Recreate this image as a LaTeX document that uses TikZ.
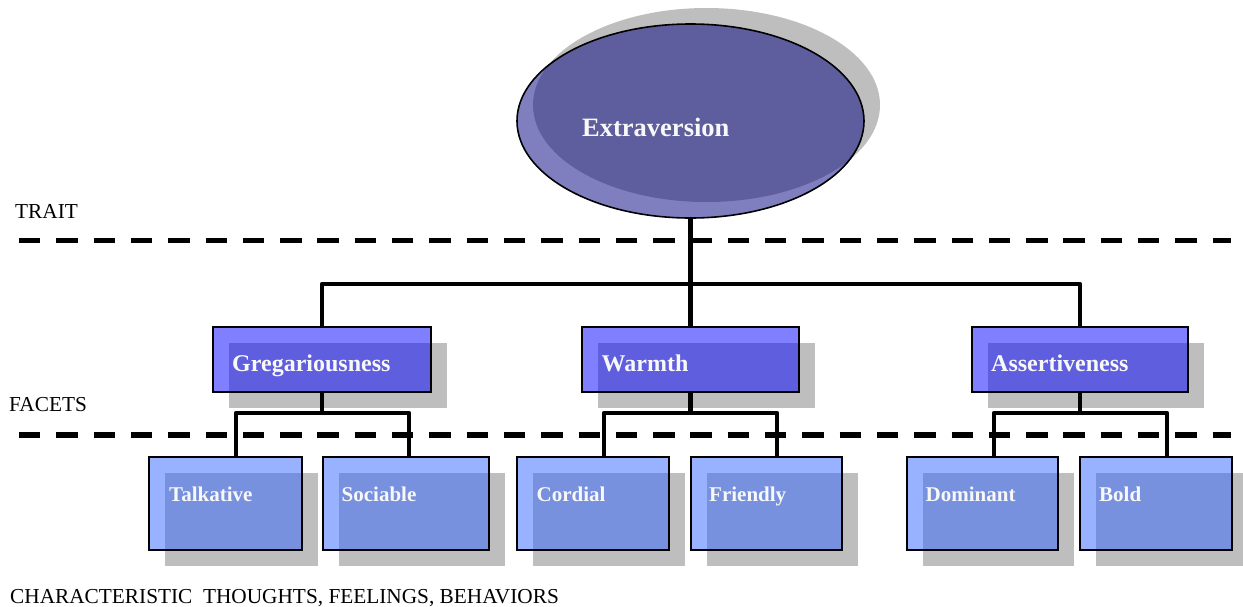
\documentclass[tikz,border=0pt]{standalone}
\usepackage{fontspec}
\setmainfont{Liberation Serif}
\usetikzlibrary{shapes.geometric,shadows}
\definecolor{shgray}{RGB}{190,190,190}
\definecolor{ellcol}{RGB}{0,0,128}
\definecolor{faccol}{RGB}{0,0,255}
\definecolor{charcol}{RGB}{51,102,255}
\definecolor{txtw}{RGB}{248,248,248}
\begin{document}
\begin{tikzpicture}[x=1pt,y=-1pt,
  boxbase/.style={draw=black, line width=2pt, fill opacity=0.5, draw opacity=1,
    inner sep=0pt, outer sep=0pt, anchor=north west},
  boxshadow/.style={drop shadow={shadow xshift=16pt, shadow yshift=-16pt,
    fill=shgray, opacity=1, fill opacity=1, draw=none}},
  facetbox/.style={boxbase, boxshadow, fill=faccol, minimum height=65pt},
  charbox/.style={boxbase, boxshadow, fill=charcol, minimum height=93pt},
  traitell/.style={ellipse, draw=black, line width=1.6pt, fill=ellcol,
    fill opacity=0.5, draw opacity=1, inner sep=0pt, outer sep=0pt,
    minimum width=347pt, minimum height=194pt,
    drop shadow={shadow xshift=16pt, shadow yshift=16pt,
    fill=shgray, opacity=1, fill opacity=1, draw=none}},
  conn/.style={draw=black, line width=4.5pt, line join=round},
  dashline/.style={draw=black, line width=5.3pt, dash pattern=on 21.4pt off 15.9pt},
  bigtxt/.style={anchor=base west, inner sep=0pt, text=txtw,
    font=\fontsize{26.5}{30}\selectfont\bfseries},
  factxt/.style={anchor=base west, inner sep=0pt, text=txtw,
    font=\fontsize{24}{28}\selectfont\bfseries},
  chartxt/.style={anchor=base west, inner sep=0pt, text=txtw,
    font=\fontsize{21}{25}\selectfont\bfseries},
  lvltxt/.style={anchor=base west, inner sep=0pt, text=black,
    font=\fontsize{21.3}{25}\selectfont}]
\useasboundingbox (0,0) rectangle (1243,606);

% dashed level lines
\coordinate (d1a) at (19,240.5);
\coordinate (d1b) at (1231,240.5);
\coordinate (d2a) at (19,435);
\coordinate (d2b) at (1231,435);
\draw[dashline] (d1a) -- (d1b);
\draw[dashline] (d2a) -- (d2b);

% trait
\node[traitell] (ext) at (690.5,121) {};

% facets
\node[facetbox, minimum width=218pt] (greg) at (213,327) {};
\node[facetbox, minimum width=217pt] (warm) at (582,327) {};
\node[facetbox, minimum width=216pt] (asrt) at (972,327) {};

% characteristics
\node[charbox, minimum width=153pt] (talk) at (149,456.5) {};
\node[charbox, minimum width=166pt] (soc)  at (323,456.5) {};
\node[charbox, minimum width=152pt] (cord) at (517,456.5) {};
\node[charbox, minimum width=151pt] (frnd) at (691,456.5) {};
\node[charbox, minimum width=151pt] (dom)  at (907,456.5) {};
\node[charbox, minimum width=152pt] (bold) at (1080,456.5) {};

% connectors: trait to facets
\coordinate (tj) at (690.5,284);
\draw[conn] (ext.south) -- (warm.north);
\draw[conn] (greg.north) |- (tj) -| (asrt.north);

% connectors: facets to characteristics
\coordinate (gL) at (236,413);
\coordinate (gR) at (409,413);
\coordinate (wL) at (604,413);
\coordinate (wR) at (777,413);
\coordinate (aL) at (994,413);
\coordinate (aR) at (1167,413);
\draw[conn] (greg.south) -- (greg.south |- gL);
\draw[conn] (gL |- talk.north) -- (gL) -- (gR) -- (gR |- soc.north);
\draw[conn] (warm.south) -- (warm.south |- wL);
\draw[conn] (wL |- cord.north) -- (wL) -- (wR) -- (wR |- frnd.north);
\draw[conn] (asrt.south) -- (asrt.south |- aL);
\draw[conn] (aL |- dom.north) -- (aL) -- (aR) -- (aR |- bold.north);

% texts
\node[bigtxt] (extT) at (582,136) {Extraversion};
\node[factxt] (gregT) at (232,371.5) {Gregariousness};
\node[factxt] (warmT) at (601.5,371) {Warmth};
\node[factxt] (asrtT) at (991,371) {Assertiveness};
\node[chartxt] (talkT) at (169,501) {Talkative};
\node[chartxt] (socT)  at (341.5,501) {Sociable};
\node[chartxt] (cordT) at (536.5,501) {Cordial};
\node[chartxt] (frndT) at (709,501) {Friendly};
\node[chartxt] (domT)  at (925.5,501) {Dominant};
\node[chartxt] (boldT) at (1099,501) {Bold};

\node[lvltxt] (trait) at (15,218) {TRAIT};
\node[lvltxt] (facets) at (9,411) {FACETS};
\node[lvltxt] (chars) at (10,603) {CHARACTERISTIC\ \ THOUGHTS, FEELINGS, BEHAVIORS};
\end{tikzpicture}
\end{document}
